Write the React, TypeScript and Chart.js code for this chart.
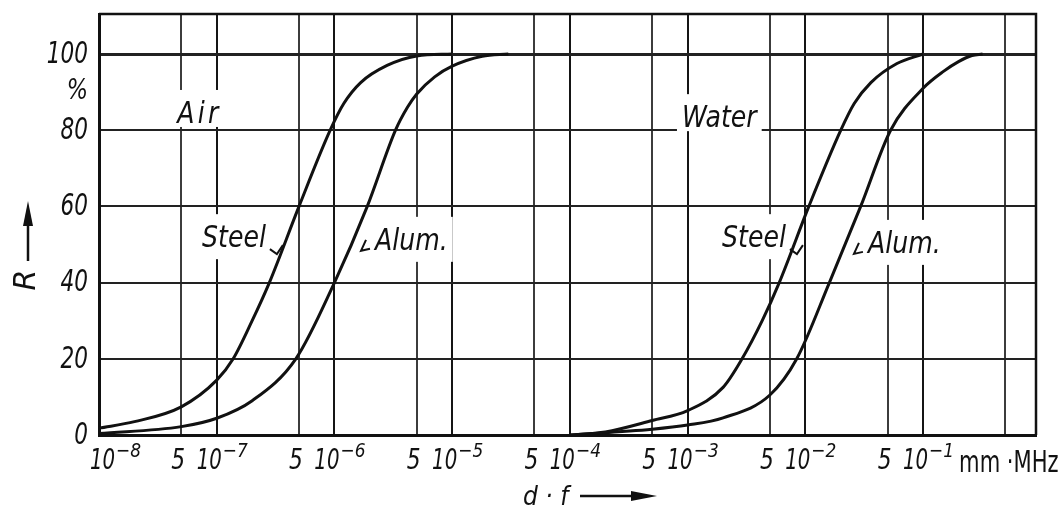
import React, { useEffect, useRef } from 'react';
import { Chart, registerables } from 'chart.js';

Chart.register(...registerables);

// Reflection R (%) against the product d·f (mm·MHz)
const airSteelDF = [1e-8, 2e-8, 5e-8, 1e-7, 1.38e-7, 2e-7, 2.8e-7, 5e-7, 9.2e-7, 1.2e-6, 1.67e-6, 2.8e-6, 5e-6, 1e-5];
const airSteelR = [1.8, 3.5, 7.4, 14.4, 20, 30, 40, 60, 80, 87, 92.5, 97, 99.5, 100];

const airAlumDF = [1e-8, 5e-8, 1e-7, 2e-7, 4.7e-7, 1e-6, 1.9e-6, 3.3e-6, 4.17e-6, 5e-6, 7.1e-6, 1e-5, 1.8e-5, 3e-5];
const airAlumR = [0.4, 2.2, 4.4, 9, 20, 40, 60, 80, 86, 89.5, 94, 96.8, 99.4, 100];

const waterSteelDF = [1e-4, 2e-4, 5e-4, 1e-3, 2e-3, 2.9e-3, 4.3e-3, 6e-3, 1.07e-2, 2e-2, 2.6e-2, 3.6e-2, 6e-2, 1e-1];
const waterSteelR = [0, 0.8, 3.8, 6.4, 12.5, 20, 30, 40, 60, 80, 87, 92.5, 97.5, 100];

const waterAlumDF = [1e-4, 5e-4, 1e-3, 2e-3, 5e-3, 8.45e-3, 1.6e-2, 2.95e-2, 5.3e-2, 1e-1, 1.5e-1, 2e-1, 2.6e-1, 3.2e-1];
const waterAlumR = [0, 1.5, 2.6, 4.5, 10.5, 20, 40, 60, 80, 91, 95.5, 98, 99.6, 100];

// Axis ticks
const xTickValues = [1e-8, 5e-8, 1e-7, 5e-7, 1e-6, 5e-6, 1e-5, 5e-5, 1e-4, 5e-4, 1e-3, 5e-3, 1e-2, 5e-2, 1e-1];
const xTickBase = ['10', '5', '10', '5', '10', '5', '10', '5', '10', '5', '10', '5', '10', '5', '10'];
const xTickExp = ['−8', '', '−7', '', '−6', '', '−5', '', '−4', '', '−3', '', '−2', '', '−1'];
const xGridValues = [...xTickValues, 5e-1];
const yTickValues = [0, 20, 40, 60, 80, 100];
const yTickLabels = ['0', '20', '40', '60', '80', '100'];

// Curve names, anchored at (d·f, R) of their left edge / baseline
const curveLabels = ['Air', 'Steel', 'Alum.', 'Water', 'Steel', 'Alum.'];
const curveLabelDF = [4.61e-8, 7.5e-8, 2.21e-6, 8.95e-4, 1.96e-3, 3.4e-2];
const curveLabelR = [81.9, 49.3, 48.6, 80.8, 49.3, 47.8];

const FONT = "'DejaVu Sans', 'Liberation Sans', sans-serif";
const INK = '#111';

function squeezedText(ctx: CanvasRenderingContext2D, text: string, x: number, y: number, sx: number, align: CanvasTextAlign = 'left') {
  ctx.save();
  ctx.translate(x, y);
  ctx.scale(sx, 1);
  ctx.textAlign = align;
  ctx.fillText(text, 0, 0);
  ctx.restore();
}

const LABEL_SQUEEZE = 0.84;

function setLabelFont(ctx: CanvasRenderingContext2D, text: string) {
  ctx.font = `italic 30px ${FONT}`;
  (ctx as any).letterSpacing = text === 'Air' ? '4px' : '0px';
}

const annotate = {
  id: 'annotate',
  beforeDatasetsDraw(chart: any) {
    const { ctx, chartArea: a, scales } = chart;
    const x = scales.x;
    const y = scales.y;
    ctx.save();
    // top and right edges of the frame
    ctx.strokeStyle = INK;
    ctx.lineWidth = 2.5;
    ctx.beginPath();
    ctx.moveTo(a.left, a.top);
    ctx.lineTo(a.right, a.top);
    ctx.lineTo(a.right, a.bottom);
    ctx.stroke();
    // clear the grid behind the curve names
    ctx.fillStyle = '#fff';
    curveLabels.forEach((t, i) => {
      setLabelFont(ctx, t);
      const w = ctx.measureText(t).width * LABEL_SQUEEZE;
      const px = x.getPixelForValue(curveLabelDF[i]);
      const py = y.getPixelForValue(curveLabelR[i]);
      const low = curveLabelR[i] < 60;
      ctx.fillRect(px - 5, py - 33, w + 10, low ? 45 : 37);
    });
    ctx.restore();
  },
  afterDatasetsDraw(chart: any) {
    const { ctx, chartArea: a, scales } = chart;
    const x = scales.x;
    const y = scales.y;
    ctx.save();
    ctx.fillStyle = INK;
    ctx.strokeStyle = INK;
    ctx.textBaseline = 'alphabetic';

    // curve names with their small leader marks
    curveLabels.forEach((t, i) => {
      setLabelFont(ctx, t);
      const w = ctx.measureText(t).width * LABEL_SQUEEZE;
      const px = x.getPixelForValue(curveLabelDF[i]);
      const py = y.getPixelForValue(curveLabelR[i]);
      squeezedText(ctx, t, px, py, LABEL_SQUEEZE);
      ctx.lineWidth = 2;
      ctx.beginPath();
      if (t === 'Steel') {
        const e = px + w;
        ctx.moveTo(e + 4, py + 2);
        ctx.lineTo(e + 11, py + 7);
        ctx.lineTo(e + 17, py - 2);
      } else if (t === 'Alum.') {
        ctx.moveTo(px - 9, py - 10);
        ctx.lineTo(px - 14, py + 1);
        ctx.lineTo(px - 5, py - 1);
      }
      ctx.stroke();
    });
    (ctx as any).letterSpacing = '0px';

    // y tick labels
    ctx.textBaseline = 'middle';
    ctx.font = `italic 30px ${FONT}`;
    yTickValues.forEach((v, i) => {
      squeezedText(ctx, yTickLabels[i], a.left - 11, y.getPixelForValue(v) + 1, 0.72, 'right');
    });
    ctx.font = `italic 28px ${FONT}`;
    squeezedText(ctx, '%', a.left - 11, y.getPixelForValue(90), 0.8, 'right');

    // x tick labels
    ctx.textBaseline = 'alphabetic';
    const base = a.bottom + 34;
    xTickValues.forEach((v, i) => {
      const px = x.getPixelForValue(v);
      if (xTickExp[i]) {
        ctx.font = `italic 29px ${FONT}`;
        const right = px + (i === 0 ? 16 : 5);
        squeezedText(ctx, xTickBase[i], right, base, 0.68, 'right');
        ctx.font = `italic 20px ${FONT}`;
        squeezedText(ctx, xTickExp[i], right + 1, base - 12, 0.85, 'left');
      } else {
        ctx.font = `italic 29px ${FONT}`;
        squeezedText(ctx, xTickBase[i], px - 3, base, 0.75, 'center');
      }
    });
    ctx.font = `31px ${FONT}`;
    squeezedText(ctx, 'mm ·MHz', x.getPixelForValue(1e-1) + 36, base + 3, 0.68, 'left');

    // x axis title with arrow
    const tx = 523;
    const ty = a.bottom + 70;
    ctx.font = `italic 26px ${FONT}`;
    squeezedText(ctx, 'd · f', tx, ty, 0.9, 'left');
    ctx.lineWidth = 2.5;
    ctx.beginPath();
    ctx.moveTo(tx + 57, ty - 9);
    ctx.lineTo(tx + 112, ty - 9);
    ctx.stroke();
    ctx.beginPath();
    ctx.moveTo(tx + 134, ty - 9);
    ctx.lineTo(tx + 108, ty - 14);
    ctx.lineTo(tx + 108, ty - 4);
    ctx.closePath();
    ctx.fill();

    // y axis title with arrow
    ctx.save();
    ctx.translate(27, 280);
    ctx.rotate(-Math.PI / 2);
    ctx.font = `italic 30px ${FONT}`;
    ctx.textAlign = 'center';
    ctx.textBaseline = 'middle';
    ctx.fillText('R', 0, 0);
    ctx.restore();
    ctx.lineWidth = 2.5;
    ctx.beginPath();
    ctx.moveTo(28, 261);
    ctx.lineTo(28, 220);
    ctx.stroke();
    ctx.beginPath();
    ctx.moveTo(28, 201);
    ctx.lineTo(23, 226);
    ctx.lineTo(33, 226);
    ctx.closePath();
    ctx.fill();

    ctx.restore();
  },
};

function series(xs: number[], ys: number[]) {
  return xs.map((v, i) => ({ x: v, y: ys[i] }));
}

export default function App() {
  const canvasRef = useRef<HTMLCanvasElement | null>(null);

  useEffect(() => {
    const canvas = canvasRef.current;
    if (!canvas) return;
    const curve = (label: string, data: { x: number; y: number }[]) => ({
      label,
      data,
      borderColor: INK,
      borderWidth: 3,
      pointRadius: 0,
      fill: false,
      cubicInterpolationMode: 'monotone' as const,
    });
    const chart = new Chart(canvas, {
      type: 'line',
      data: {
        datasets: [
          curve('Air / Steel', series(airSteelDF, airSteelR)),
          curve('Air / Alum.', series(airAlumDF, airAlumR)),
          curve('Water / Steel', series(waterSteelDF, waterSteelR)),
          curve('Water / Alum.', series(waterAlumDF, waterAlumR)),
        ],
      },
      options: {
        animation: false,
        responsive: false,
        layout: { padding: { left: 99, right: 27, top: 14, bottom: 74 } },
        plugins: { legend: { display: false }, tooltip: { enabled: false } },
        scales: {
          x: {
            type: 'logarithmic',
            min: 1e-8,
            max: 0.91,
            afterBuildTicks: (s: any) => {
              s.ticks = xGridValues.map((v) => ({ value: v }));
            },
            ticks: { display: false },
            grid: {
              drawTicks: false,
              color: (c: any) => {
                const v = c.tick ? c.tick.value : 1;
                const m = v / Math.pow(10, Math.floor(Math.log10(v) + 1e-9));
                return m > 2 ? '#3c3c3c' : '#151515';
              },
              lineWidth: 2,
            },
            border: { display: true, color: INK, width: 3 },
          },
          y: {
            type: 'linear',
            min: 0,
            max: 110.5,
            afterBuildTicks: (s: any) => {
              s.ticks = yTickValues.map((v) => ({ value: v }));
            },
            ticks: { display: false },
            grid: {
              drawTicks: false,
              color: '#222',
              lineWidth: (c: any) => (c.tick && c.tick.value === 100 ? 3 : 2),
            },
            border: { display: true, color: INK, width: 3 },
          },
        },
      },
      plugins: [annotate],
    });
    return () => chart.destroy();
  }, []);

  return (
    <div style={{ position: 'absolute', left: 0, top: 0, width: 1063, height: 509, background: '#fff' }}>
      <canvas ref={canvasRef} width={1063} height={509} style={{ display: 'block', width: 1063, height: 509 }} />
    </div>
  );
}
